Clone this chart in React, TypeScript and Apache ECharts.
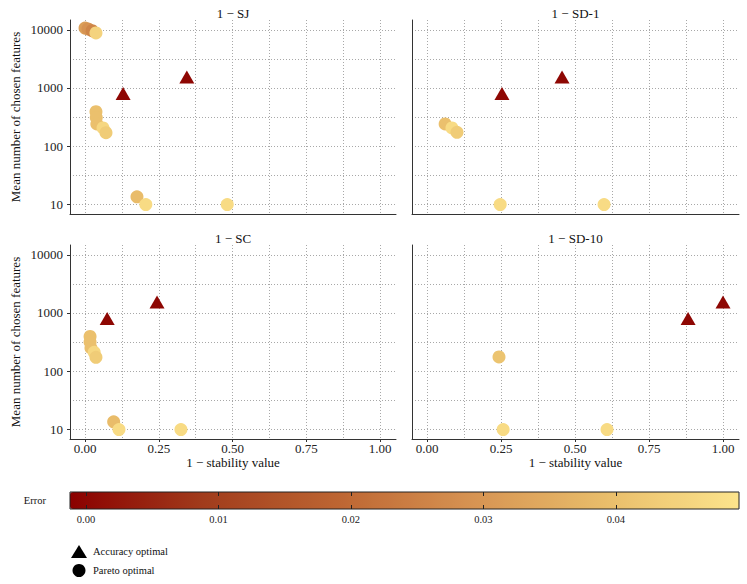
import React, { useEffect, useRef } from "react";
import * as echarts from "echarts";

// ---------- data ----------
const panelTitles = ["1 − SJ", "1 − SD-1", "1 − SC", "1 − SD-10"];

// Accuracy optimal models (triangles): mean number of features and error
const accFeatures = [800, 1550];
const accError = [0.0, 0.0];
// 1 - stability value per panel for the accuracy-optimal models
const accSJ = [0.129, 0.345];
const accSD1 = [0.253, 0.456];
const accSC = [0.075, 0.244];
const accSD10 = [0.882, 1.0];

// Pareto optimal models (circles): [1 - stability, mean features, error]
const paretoSJ: [number, number, number][] = [
  [0.0, 10800, 0.032],
  [0.01, 10400, 0.029],
  [0.024, 9700, 0.026],
  [0.037, 8900, 0.045],
  [0.037, 390, 0.04],
  [0.038, 310, 0.04],
  [0.04, 240, 0.04],
  [0.061, 205, 0.046],
  [0.071, 170, 0.043],
  [0.176, 13.3, 0.039],
  [0.206, 9.8, 0.047],
  [0.482, 9.8, 0.047],
];
const paretoSD1: [number, number, number][] = [
  [0.061, 240, 0.04],
  [0.084, 205, 0.047],
  [0.101, 172, 0.043],
  [0.247, 9.8, 0.047],
  [0.598, 9.8, 0.047],
];
const paretoSC: [number, number, number][] = [
  [0.017, 395, 0.04],
  [0.017, 315, 0.04],
  [0.02, 250, 0.04],
  [0.031, 210, 0.046],
  [0.037, 172, 0.043],
  [0.097, 13.3, 0.039],
  [0.115, 9.8, 0.047],
  [0.325, 9.8, 0.047],
];
const paretoSD10: [number, number, number][] = [
  [0.243, 175, 0.041],
  [0.257, 9.8, 0.047],
  [0.608, 9.8, 0.047],
];

const xMajor = [0, 0.25, 0.5, 0.75, 1];
const xGridVals = [0, 0.125, 0.25, 0.375, 0.5, 0.625, 0.75, 0.875, 1];
const yMajorLog = [1, 2, 3, 4]; // 10, 100, 1000, 10000
const yGridLog = [1, 1.5, 2, 2.5, 3, 3.5, 4];
const errorTicks = [0, 0.01, 0.02, 0.03, 0.04];
const errorColors = ["#8B0000", "#A13C1C", "#BD6532", "#D69352", "#E9BD6A", "#FCE48C"];

// ---------- layout ----------
const FONT = "Liberation Serif";
const X_MIN = -0.051;
const X_MAX = 1.054;
const Y_MIN = 0.828;
const Y_MAX = 4.172;
const ERR_MIN = -0.00121;
const ERR_MAX = 0.0493;

const panelGrids = [
  { left: 70, top: 20, width: 326, height: 194 },
  { left: 412, top: 20, width: 327, height: 194 },
  { left: 70, top: 245, width: 326, height: 194 },
  { left: 412, top: 245, width: 327, height: 194 },
];
const cbGrid = { left: 70, top: 492, width: 669, height: 17 };

function buildOption() {
  const accX = [accSJ, accSD1, accSC, accSD10];
  const pareto = [paretoSJ, paretoSD1, paretoSC, paretoSD10];

  const grid: any[] = panelGrids.map((g) => ({ ...g, containLabel: false }));
  grid.push({ ...cbGrid, containLabel: false });

  const xAxis: any[] = [];
  const yAxis: any[] = [];
  const series: any[] = [];
  const labelStyle = { fontFamily: FONT, fontSize: 13, color: "#222" };

  panelGrids.forEach((_, g) => {
    const isBottom = g >= 2;
    const isLeft = g % 2 === 0;
    // data x axis (grid lines)
    xAxis.push({
      gridIndex: g,
      type: "value",
      min: X_MIN,
      max: X_MAX,
      axisLine: { show: false },
      axisTick: { show: true, length: 0, customValues: xGridVals },
      axisLabel: { show: false },
      splitLine: { show: true, lineStyle: { color: "#a8a8a8", width: 1, type: [1, 2] } },
    });
    // visible x axis
    xAxis.push({
      gridIndex: g,
      type: "value",
      position: "bottom",
      min: X_MIN,
      max: X_MAX,
      z: 5,
      axisLine: { show: true, onZero: false, lineStyle: { color: "#333", width: 1 } },
      axisTick: { show: isBottom, length: 3, customValues: xMajor, lineStyle: { color: "#333" } },
      axisLabel: {
        show: isBottom,
        customValues: xMajor,
        margin: 3,
        formatter: (v: number) => v.toFixed(2),
        ...labelStyle,
      },
      splitLine: { show: false },
      name: isBottom ? "1 − stability value" : "",
      nameLocation: "middle",
      nameGap: 15,
      nameTextStyle: { fontFamily: FONT, fontSize: 13, color: "#111" },
    });
    yAxis.push({
      gridIndex: g,
      type: "value",
      min: Y_MIN,
      max: Y_MAX,
      axisLine: { show: false },
      axisTick: { show: true, length: 0, customValues: yGridLog },
      axisLabel: { show: false },
      splitLine: { show: true, lineStyle: { color: "#a8a8a8", width: 1, type: [1, 2] } },
    });
    yAxis.push({
      gridIndex: g,
      type: "value",
      position: "left",
      min: Y_MIN,
      max: Y_MAX,
      z: 5,
      axisLine: { show: true, onZero: false, lineStyle: { color: "#333", width: 1 } },
      axisTick: { show: isLeft, length: 3, customValues: yMajorLog, lineStyle: { color: "#333" } },
      axisLabel: {
        show: isLeft,
        customValues: yMajorLog,
        margin: 7,
        formatter: (v: number) => String(Math.round(Math.pow(10, v))),
        ...labelStyle,
      },
      splitLine: { show: false },
      name: isLeft ? "Mean number of chosen features" : "",
      nameLocation: "middle",
      nameGap: 48,
      nameTextStyle: { fontFamily: FONT, fontSize: 13, color: "#111" },
    });

    series.push({
      name: "Pareto optimal",
      type: "scatter",
      xAxisIndex: 2 * g,
      yAxisIndex: 2 * g,
      symbol: "circle",
      symbolSize: 13,
      itemStyle: { opacity: 1 },
      z: 3,
      data: pareto[g].map(([x, y, e]) => [x, Math.log10(y), e]),
    });
    series.push({
      name: "Accuracy optimal",
      type: "scatter",
      xAxisIndex: 2 * g,
      yAxisIndex: 2 * g,
      symbol: "triangle",
      symbolSize: [15, 13],
      itemStyle: { opacity: 1 },
      z: 3,
      data: accX[g].map((x, i) => [x, Math.log10(accFeatures[i]), accError[i]]),
    });
  });

  // colour bar axes (grid index 4)
  const cbText = { fontFamily: FONT, fontSize: 10.5, color: "#222" };
  xAxis.push({
    gridIndex: 4,
    type: "value",
    position: "bottom",
    min: ERR_MIN,
    max: ERR_MAX,
    z: 10,
    axisLine: { show: false },
    axisTick: { show: true, inside: true, length: 4, customValues: errorTicks, lineStyle: { color: "#222" } },
    axisLabel: {
      show: true,
      customValues: errorTicks,
      margin: 5,
      formatter: (v: number) => v.toFixed(2),
      ...cbText,
    },
    splitLine: { show: false },
  });
  xAxis.push({
    gridIndex: 4,
    type: "value",
    position: "top",
    min: ERR_MIN,
    max: ERR_MAX,
    z: 10,
    axisLine: { show: false },
    axisTick: { show: true, inside: true, length: 4, customValues: errorTicks, lineStyle: { color: "#222" } },
    axisLabel: { show: false },
    splitLine: { show: false },
  });
  yAxis.push({
    gridIndex: 4,
    type: "value",
    min: 0,
    max: 1,
    show: false,
  });
  grid[4].show = true;
  grid[4].borderColor = "#222";
  grid[4].borderWidth = 1;
  grid[4].backgroundColor = "transparent";
  grid[4].z = 10;

  const graphic: any[] = panelGrids.map((g, i) => ({
    type: "text",
    x: g.left + g.width / 2,
    y: g.top - 7,
    style: {
      text: panelTitles[i],
      align: "center",
      verticalAlign: "middle",
      font: `13px "${FONT}"`,
      fill: "#111",
    },
  }));
  graphic.push({
    type: "text",
    x: 46,
    y: cbGrid.top + cbGrid.height / 2,
    style: {
      text: "Error",
      align: "right",
      verticalAlign: "middle",
      font: `10.5px "${FONT}"`,
      fill: "#111",
    },
  });

  return {
    animation: false,
    backgroundColor: "#fff",
    textStyle: { fontFamily: FONT },
    grid,
    xAxis,
    yAxis,
    series,
    graphic,
    visualMap: {
      type: "continuous",
      min: ERR_MIN,
      max: ERR_MAX,
      dimension: 2,
      seriesIndex: [0, 1, 2, 3, 4, 5, 6, 7],
      orient: "horizontal",
      left: cbGrid.left,
      top: cbGrid.top,
      itemHeight: cbGrid.width,
      itemWidth: cbGrid.height,
      padding: 0,
      calculable: false,
      hoverLink: false,
      text: null,
      inRange: { color: errorColors },
    },
    legend: {
      orient: "vertical",
      left: 66,
      top: 540,
      itemWidth: 16,
      itemHeight: 13,
      itemGap: 6,
      itemStyle: { color: "#000" },
      textStyle: { fontFamily: FONT, fontSize: 10.5, color: "#111", padding: [0, 0, 0, 1] },
      data: [
        { name: "Accuracy optimal", icon: "triangle" },
        { name: "Pareto optimal", icon: "circle" },
      ],
    },
  };
}

export default function App() {
  const ref = useRef<HTMLDivElement>(null);
  useEffect(() => {
    if (!ref.current) return;
    const chart = echarts.init(ref.current, null, { renderer: "svg" });
    chart.setOption(buildOption() as any);
    return () => chart.dispose();
  }, []);
  return (
    <div
      ref={ref}
      style={{ position: "fixed", left: 0, top: 0, width: 747, height: 584, background: "#fff" }}
    />
  );
}
